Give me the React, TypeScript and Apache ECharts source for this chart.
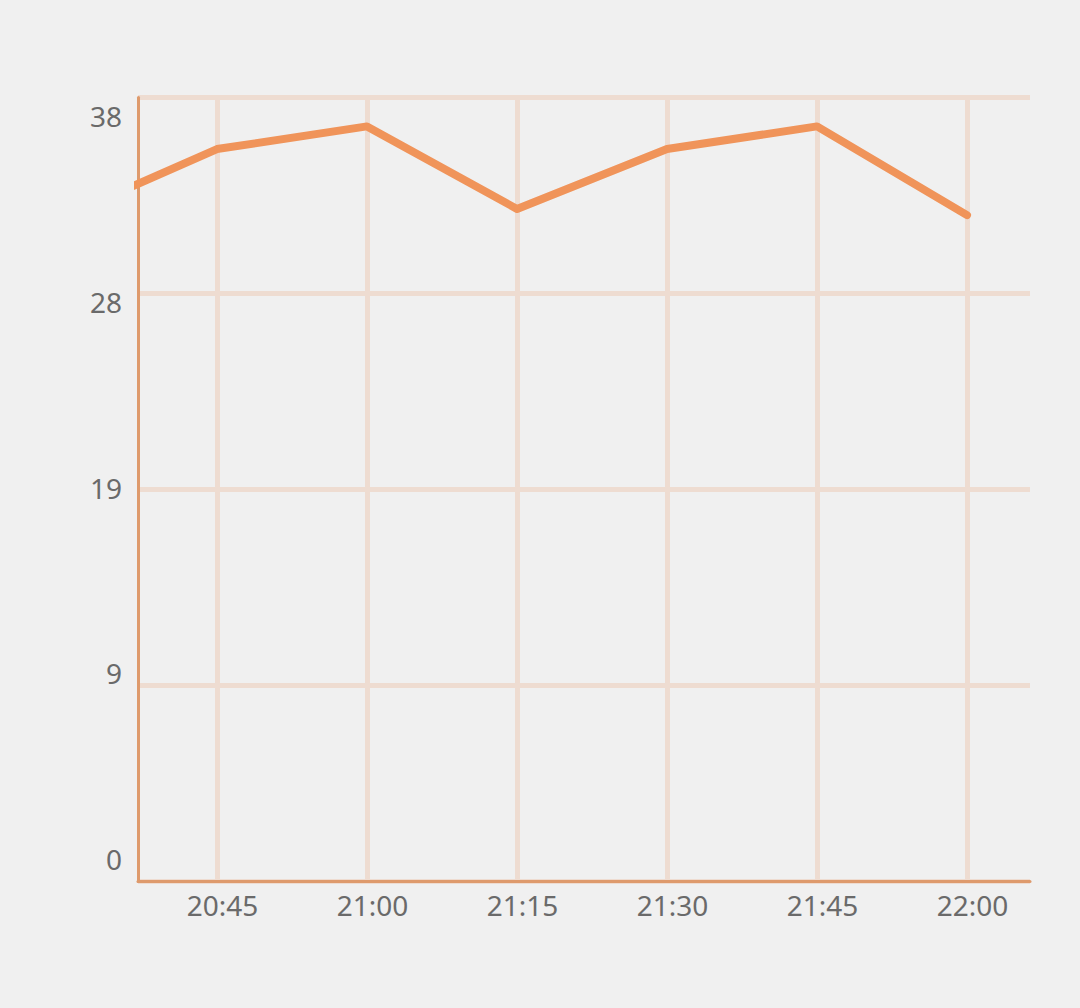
import React, { useEffect, useRef } from "react";
import * as echarts from "echarts";

// time in minutes from midnight
const times = [1230, 1245, 1260, 1275, 1290, 1305, 1320];
const values = [32.3, 35.5, 36.6, 32.6, 35.5, 36.6, 32.3];
const xTickValues = [1245, 1260, 1275, 1290, 1305, 1320];
const yMin = 0;
const yMax = 38;
const yInterval = 9.5;

const fmtTime = (v: number) => {
  const h = Math.floor(v / 60);
  const m = Math.round(v % 60);
  return `${h}:${m < 10 ? "0" + m : m}`;
};

const GRID_COLOR = "#eedcd1";
const AXIS_COLOR = "#de9a6c";
const LINE_COLOR = "#f0945a";
const LABEL_COLOR = "#6a6a6a";
const FONT = "'Noto Sans', sans-serif";

export default function App() {
  const ref = useRef<HTMLDivElement>(null);
  useEffect(() => {
    document.body.style.margin = "0";
    const chart = echarts.init(ref.current!, null, { renderer: "svg" });
    chart.setOption({
      animation: false,
      backgroundColor: "#f0f0f0",
      grid: [
        { left: 138, right: 50, top: 97.5, bottom: 126.5 },
        { left: 138, right: 50, top: 116, bottom: 149 },
      ],
      xAxis: [
        {
          type: "value",
          gridIndex: 0,
          min: 1237.1,
          max: 1326.3,
          axisLine: { show: true, onZero: false, lineStyle: { color: AXIS_COLOR, width: 3 } },
          axisTick: { show: false, customValues: xTickValues },
          splitLine: { show: true, lineStyle: { color: GRID_COLOR, width: 5 } },
          axisLabel: {
            customValues: xTickValues,
            formatter: (v: number) => fmtTime(v),
            color: LABEL_COLOR,
            fontFamily: FONT,
            fontSize: 28,
            margin: 9,
            padding: [0, 0, 0, 11],
          },
        },
        {
          type: "value",
          gridIndex: 1,
          min: 0,
          max: 1,
          show: false,
        },
      ],
      yAxis: [
        {
          type: "value",
          gridIndex: 0,
          min: yMin,
          max: yMax,
          interval: yInterval,
          axisLine: { show: true, lineStyle: { color: AXIS_COLOR, width: 3 } },
          axisTick: { show: false },
          splitLine: { show: true, lineStyle: { color: GRID_COLOR, width: 5 } },
          axisLabel: { show: false },
        },
        {
          type: "value",
          gridIndex: 1,
          min: yMin,
          max: yMax,
          interval: yInterval,
          axisLine: { show: false },
          axisTick: { show: false },
          splitLine: { show: false },
          axisLabel: {
            formatter: (v: number) => String(Math.floor(v)),
            color: LABEL_COLOR,
            fontFamily: FONT,
            fontSize: 28,
            margin: 16,
          },
        },
      ],
      series: [
        {
          type: "line",
          xAxisIndex: 0,
          yAxisIndex: 0,
          data: times.map((t, i) => [t, values[i]]),
          showSymbol: false,
          symbol: "none",
          clip: true,
          lineStyle: { color: LINE_COLOR, width: 8, cap: "round", join: "round" },
          z: 3,
        },
        {
          type: "line",
          xAxisIndex: 1,
          yAxisIndex: 1,
          data: [],
        },
      ],
    });
    return () => chart.dispose();
  }, []);
  return (
    <div
      ref={ref}
      style={{ position: "fixed", left: 0, top: 0, width: 1080, height: 1008, background: "#f0f0f0" }}
    />
  );
}
